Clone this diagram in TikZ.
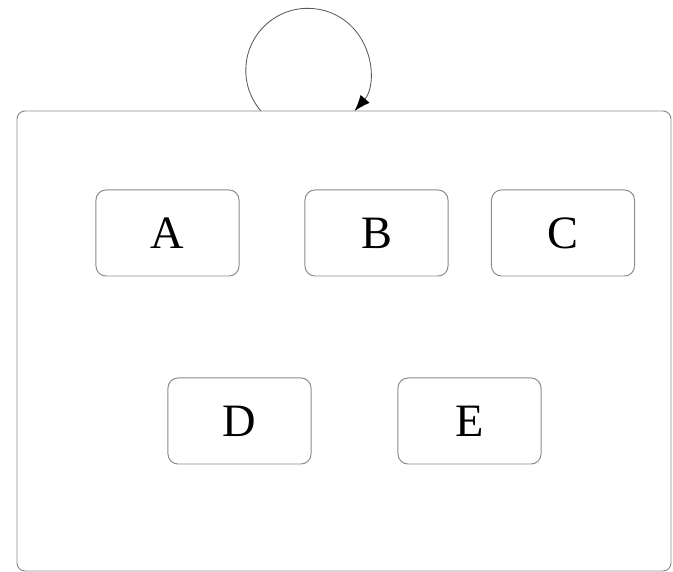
\documentclass[tikz,border=0pt]{standalone}
\usepackage{fontspec}
\setmainfont{Liberation Serif}
\usetikzlibrary{arrows.meta}
\definecolor{boxline}{HTML}{8C8C8C}
\definecolor{loopline}{HTML}{5A5A5A}
\tikzset{
  statebox/.style={draw=boxline,line width=0.7pt,rounded corners=0.25cm,
    minimum width=3.575cm,minimum height=2.15cm,inner sep=0pt,
    font=\fontsize{33}{38}\selectfont},
  outerbox/.style={draw=boxline,line width=0.7pt,rounded corners=0.2cm}
}
\begin{document}
\begin{tikzpicture}[x=0.025cm,y=0.025cm]
\useasboundingbox (0,0) rectangle (673,572);
\draw[outerbox] (17,1) rectangle (671,461);
\node[statebox] (A) at (167.5,339) {A};
\node[statebox] (B) at (376.5,339) {B};
\node[statebox] (C) at (563,339) {C};
\node[statebox] (D) at (239.5,151) {D};
\node[statebox] (E) at (469.5,151) {E};

% self loop on the outer box
\coordinate (loopstart) at (261,461);
\draw[loopline,line width=0.6pt,-{Latex[length=0.4cm,width=0.3cm,black]}]
  (loopstart) arc[start angle=221,end angle=-41,radius=62];
\end{tikzpicture}
\end{document}
